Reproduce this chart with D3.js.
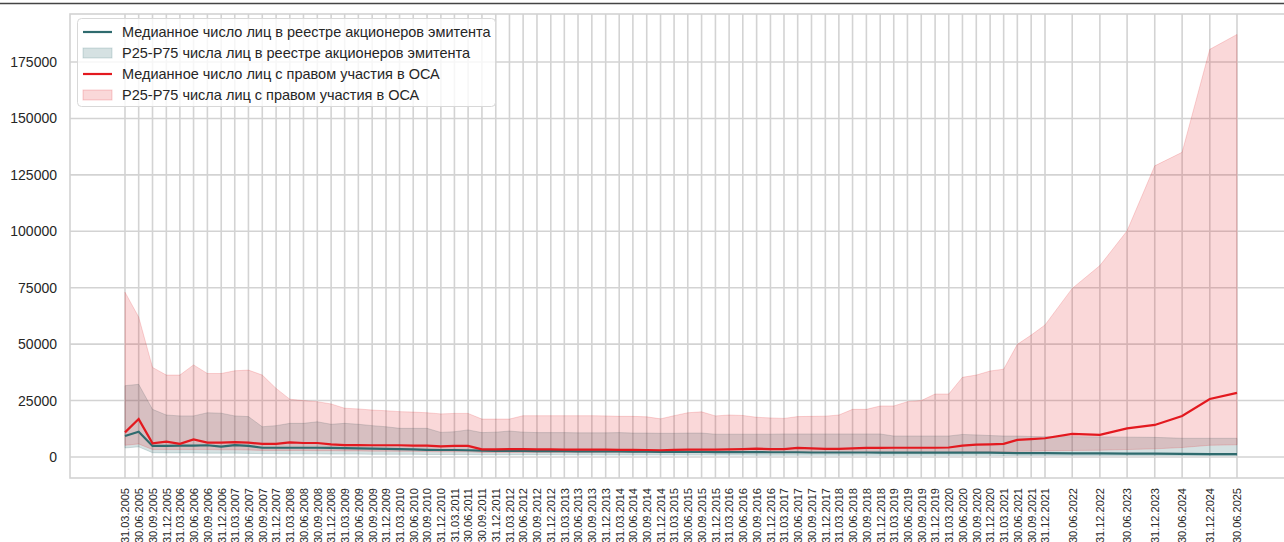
<!DOCTYPE html>
<html><head><meta charset="utf-8">
<script src="https://cdn.jsdelivr.net/npm/d3@7/dist/d3.min.js"></script>
<style>
html,body{margin:0;padding:0;background:#fff;}
svg{display:block;font-family:"Liberation Sans",Arial,sans-serif;}
</style></head>
<body>
<svg id="c" width="1284" height="542"></svg>
<script>
const dates = [
"31.03.2005","30.06.2005","30.09.2005","31.12.2005",
"31.03.2006","30.06.2006","30.09.2006","31.12.2006",
"31.03.2007","30.06.2007","30.09.2007","31.12.2007",
"31.03.2008","30.06.2008","30.09.2008","31.12.2008",
"31.03.2009","30.06.2009","30.09.2009","31.12.2009",
"31.03.2010","30.06.2010","30.09.2010","31.12.2010",
"31.03.2011","30.06.2011","30.09.2011","31.12.2011",
"31.03.2012","30.06.2012","30.09.2012","31.12.2012",
"31.03.2013","30.06.2013","30.09.2013","31.12.2013",
"31.03.2014","30.06.2014","30.09.2014","31.12.2014",
"31.03.2015","30.06.2015","30.09.2015","31.12.2015",
"31.03.2016","30.06.2016","30.09.2016","31.12.2016",
"31.03.2017","30.06.2017","30.09.2017","31.12.2017",
"31.03.2018","30.06.2018","30.09.2018","31.12.2018",
"31.03.2019","30.06.2019","30.09.2019","31.12.2019",
"31.03.2020","30.06.2020","30.09.2020","31.12.2020",
"31.03.2021","30.06.2021","30.09.2021","31.12.2021",
"30.06.2022","31.12.2022","30.06.2023","31.12.2023",
"30.06.2024","31.12.2024","30.06.2025"];

// Median number of persons in shareholder register
const regMed = [9300,11200,4900,4900,5000,5000,5200,4600,5300,4900,4100,4100,4100,4100,4100,4000,
3900,3800,3700,3600,3500,3400,3200,3100,3100,3000,2800,2700,2700,2700,2600,2600,
2600,2500,2500,2500,2500,2400,2400,2300,2300,2300,2300,2200,2200,2200,2200,2100,
2100,2100,2000,2000,2000,2000,2000,1900,1900,1900,1900,1900,1900,1900,1900,1900,
1800,1700,1700,1700,1600,1600,1500,1500,1400,1300,1300];
const regP25 = [4000,4500,1900,1800,1800,1800,1700,1700,1700,1600,1500,1500,1400,1400,1400,1300,
1300,1300,1200,1200,1200,1200,1100,1100,1100,1100,1000,1000,1000,1000,1000,1000,
950,950,950,900,900,900,900,900,900,850,850,850,850,850,800,800,
800,800,800,800,800,800,750,750,750,750,750,750,750,750,750,750,
700,700,700,700,700,700,700,650,650,650,650];
const regP75 = [31600,32200,21100,18600,18200,18200,19600,19400,18200,17900,13400,13900,14900,14900,15600,14500,
14900,14500,13900,13400,12700,12700,12700,10900,11200,12000,10800,11000,11500,11000,10800,10800,
10800,10700,10700,10700,10800,10600,10600,10500,10500,10600,10600,10100,10100,10100,10100,10100,
10200,10200,10200,10200,10200,10200,10200,10200,9300,9300,9300,9300,9300,10000,9800,9500,
9300,9300,9100,9000,9000,8900,8800,8700,8300,8300,8300];

// Median number of persons entitled to participate in general meeting
const oscaMed = [10900,16800,6100,6800,5800,7800,6400,6400,6600,6400,5800,5800,6500,6200,6200,5600,
5300,5300,5200,5200,5200,5000,5000,4700,4900,4900,3400,3400,3500,3500,3400,3400,
3300,3300,3300,3300,3200,3200,3100,3000,3200,3300,3300,3300,3400,3500,3700,3500,
3500,4000,3800,3600,3600,3800,4000,4000,4100,4100,4100,4100,4200,5000,5500,5600,
5800,7600,7900,8300,10200,9800,12700,14200,18200,25700,28400];
const oscaP25 = [5200,5800,3300,3300,3300,3300,3300,3200,3200,3100,2900,2900,2900,2900,2800,2800,
2700,2700,2600,2600,2500,2500,2400,2300,2300,2300,2000,2000,2000,2000,2000,2000,
2000,1950,1950,1950,1950,1900,1900,1900,1900,1900,1900,1900,1900,1900,1900,1900,
1900,1900,1900,1900,1900,1900,1900,1900,1900,1900,1900,1900,2000,2200,2300,2300,
2400,2500,2600,2700,2900,3000,3300,3600,4200,5200,5400];
const oscaP75 = [73000,62000,39700,36300,36300,40800,37000,37000,38200,38500,36300,30400,25600,25000,24500,23500,
21600,21300,20800,20500,20100,19900,19600,19100,19300,19300,16800,16800,16800,18300,18300,18300,
18300,18300,18300,18200,18000,18000,17800,16900,18300,19600,20000,18200,18600,18400,17600,17300,
17100,17900,18000,18100,18600,21100,21100,22600,22600,24500,25000,27900,27900,35300,36300,38100,
38900,49900,54000,58500,74700,84800,100200,129000,135000,180600,187200];

const yTicks = [0,25000,50000,75000,100000,125000,150000,175000];
const legendLabels = [
 "Медианное число лиц в реестре акционеров эмитента",
 "P25-P75 числа лиц в реестре акционеров эмитента",
 "Медианное число лиц с правом участия в ОСА",
 "P25-P75 числа лиц с правом участия в ОСА"];

const TEAL = "#2f6b6e", RED = "#e3191f";
const parse = d3.utcParse("%d.%m.%Y");
const data = dates.map((d,i)=>({
  date: parse(d), label: d,
  rm: regMed[i], r25: regP25[i], r75: regP75[i],
  om: oscaMed[i], o25: oscaP25[i], o75: oscaP75[i]}));

const svg = d3.select("#c");
const L = 70, T = 14, B = 478, R = 1300;
const x = d3.scaleUtc().domain([data[0].date, data[data.length-1].date]).range([125,1237]);
const y = d3.scaleLinear().domain([0,175000]).range([457,62]);

// top border line
svg.append("line").attr("x1",0).attr("x2",1284).attr("y1",3.5).attr("y2",3.5)
  .attr("stroke","#444").attr("stroke-width",1.3);

const grid = "#d3d3d3";
// gridlines
svg.append("g").selectAll("line").data(yTicks).join("line")
  .attr("x1",L).attr("x2",R).attr("y1",d=>y(d)).attr("y2",d=>y(d))
  .attr("stroke",grid).attr("stroke-width",1.6);
svg.append("g").selectAll("line").data(data).join("line")
  .attr("x1",d=>x(d.date)).attr("x2",d=>x(d.date)).attr("y1",T).attr("y2",B)
  .attr("stroke",grid).attr("stroke-width",1.6);

// frame
svg.append("rect").attr("x",L).attr("y",T).attr("width",R-L).attr("height",B-T)
  .attr("fill","none").attr("stroke",grid).attr("stroke-width",1.6);

// bands
const areaReg = d3.area().x(d=>x(d.date)).y0(d=>y(d.r25)).y1(d=>y(d.r75));
const areaOsca = d3.area().x(d=>x(d.date)).y0(d=>y(d.o25)).y1(d=>y(d.o75));
svg.append("path").datum(data).attr("d",areaReg)
  .attr("fill",TEAL).attr("fill-opacity",0.2).attr("stroke",TEAL).attr("stroke-opacity",0.2).attr("stroke-width",1);
svg.append("path").datum(data).attr("d",areaOsca)
  .attr("fill",RED).attr("fill-opacity",0.17).attr("stroke",RED).attr("stroke-opacity",0.17).attr("stroke-width",1);

// lines
const lineReg = d3.line().x(d=>x(d.date)).y(d=>y(d.rm));
const lineOsca = d3.line().x(d=>x(d.date)).y(d=>y(d.om));
svg.append("path").datum(data).attr("d",lineReg).attr("fill","none").attr("stroke",TEAL).attr("stroke-width",2.2);
svg.append("path").datum(data).attr("d",lineOsca).attr("fill","none").attr("stroke",RED).attr("stroke-width",2.2);

// y axis labels
const yAxis = d3.axisLeft(y).tickValues(yTicks).tickSize(0).tickPadding(13).tickFormat(d3.format("d"));
const gy = svg.append("g").attr("transform",`translate(${L},0)`).call(yAxis);
gy.select(".domain").remove();
gy.selectAll("text").attr("font-size",14).attr("fill","#262626")
  .attr("font-family","'Liberation Sans',Arial,sans-serif");

// x axis labels
const xAxis = d3.axisBottom(x).tickValues(data.map(d=>d.date)).tickSize(0)
  .tickFormat(d3.utcFormat("%d.%m.%Y"));
const gx = svg.append("g").attr("transform",`translate(0,${B})`).call(xAxis);
gx.select(".domain").remove();
gx.selectAll("text").attr("font-size",11).attr("fill","#262626")
  .attr("font-family","'Liberation Sans',Arial,sans-serif")
  .attr("transform","rotate(-90)").attr("text-anchor","end")
  .attr("x",-10).attr("y",0).attr("dy","0.35em");

// legend
const lg = svg.append("g");
lg.append("rect").attr("x",77.5).attr("y",18.5).attr("width",418).attr("height",88).attr("rx",4)
  .attr("fill","#fff").attr("fill-opacity",0.8).attr("stroke","#d8d8d8").attr("stroke-width",1);
const rows = [32,53,74,95];
legendLabels.forEach((t,i)=>{
  const yy = rows[i];
  if(i%2===0){
    lg.append("line").attr("x1",83).attr("x2",112).attr("y1",yy).attr("y2",yy)
      .attr("stroke",i===0?TEAL:RED).attr("stroke-width",2.2);
  } else {
    lg.append("rect").attr("x",83).attr("y",yy-5).attr("width",29).attr("height",10)
      .attr("fill",i===1?TEAL:RED).attr("fill-opacity",i===1?0.2:0.17)
      .attr("stroke",i===1?TEAL:RED).attr("stroke-opacity",0.2);
  }
  lg.append("text").attr("x",122).attr("y",yy).attr("dy","0.36em")
    .attr("font-size",14.5).attr("fill","#262626").text(t);
});
</script>
</body></html>
